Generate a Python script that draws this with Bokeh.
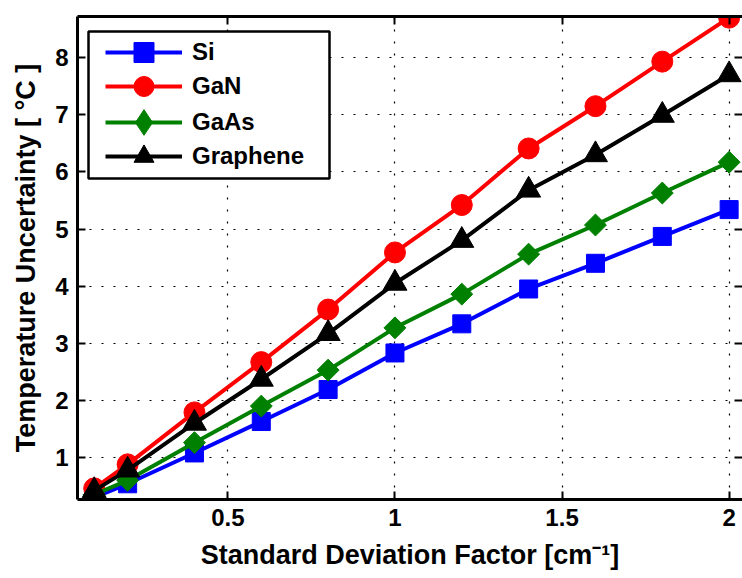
import numpy as np
from bokeh.plotting import figure
from bokeh.models import LinearAxis, FixedTicker, Range1d, Legend, LegendItem, BoxAnnotation
from bokeh.embed import file_html
from bokeh.resources import INLINE

# ---- data ----
factor = [0.1, 0.2, 0.4, 0.6, 0.8, 1.0, 1.2, 1.4, 1.6, 1.8, 2.0]
si = [0.30, 0.54, 1.08, 1.63, 2.19, 2.83, 3.34, 3.95, 4.40, 4.87, 5.34]
gan = [0.46, 0.88, 1.79, 2.67, 3.59, 4.59, 5.42, 6.41, 7.15, 7.93, 8.70]
gaas = [0.35, 0.60, 1.26, 1.90, 2.53, 3.27, 3.86, 4.56, 5.07, 5.63, 6.17]
graphene = [0.42, 0.78, 1.60, 2.37, 3.17, 4.05, 4.80, 5.68, 6.30, 6.99, 7.70]
x_ticks = [0.5, 1.0, 1.5, 2.0]
y_ticks = [1, 2, 3, 4, 5, 6, 7, 8]

FONT = "Liberation Sans"

p = figure(width=742, height=578, output_backend="svg", toolbar_location=None,
           x_range=Range1d(0.05, 2.04), y_range=Range1d(0.265, 8.72),
           min_border_left=77, min_border_right=0, min_border_top=16, min_border_bottom=79)
p.outline_line_color = None
p.background_fill_color = "white"
p.border_fill_color = "white"

# grid
for g, t in ((p.xgrid, x_ticks), (p.ygrid, y_ticks)):
    g.ticker = FixedTicker(ticks=t)
    g.grid_line_color = "black"
    g.grid_line_dash = "2 10"
    g.grid_line_width = 1.2

# main axes
for ax, t in ((p.xaxis, x_ticks), (p.yaxis, y_ticks)):
    ax.ticker = FixedTicker(ticks=t)
    ax.major_tick_in = 8
    ax.major_tick_out = 0
    ax.minor_tick_line_color = None
    ax.axis_line_width = 3
    ax.major_tick_line_width = 2
    ax.major_label_text_font = FONT
    ax.major_label_text_font_style = "bold"
    ax.major_label_text_font_size = "24px"
    ax.major_label_text_color = "black"
    ax.axis_label_text_font = FONT
    ax.axis_label_text_font_style = "bold"
    ax.axis_label_text_font_size = "27px"
    ax.axis_label_text_color = "black"

p.xaxis.axis_label = "Standard Deviation Factor [cm\u207b\u00b9]"
p.yaxis.axis_label = "Temperature Uncertainty [ \u00b0C ]"
p.xaxis.major_label_standoff = 9
p.yaxis.major_label_standoff = 9
p.xaxis.axis_label_standoff = 11
p.yaxis.axis_label_standoff = 11

# top and right axes (ticks only)
top = LinearAxis(ticker=FixedTicker(ticks=x_ticks), major_tick_in=8, major_tick_out=0,
                 minor_tick_line_color=None, axis_line_width=3, major_tick_line_width=2,
                 major_label_text_font_size="0px", major_label_standoff=0,
                 major_label_overrides={t: "" for t in x_ticks})
p.add_layout(top, "above")
right = LinearAxis(ticker=FixedTicker(ticks=y_ticks), major_tick_in=8, major_tick_out=0,
                   minor_tick_line_color=None, axis_line_color=None, major_tick_line_width=2,
                   major_label_text_font_size="0px", major_label_standoff=0,
                   major_label_overrides={t: "" for t in y_ticks})
p.add_layout(right, "right")

series = [
    ("Si", si, "#0000ff", dict(marker="square", size=18), None),
    ("GaN", gan, "#ff0000", dict(marker="circle", size=21), None),
    ("GaAs", gaas, "#008000", dict(marker="square", size=15.5, angle=np.pi / 4), "diamond"),
    ("Graphene", graphene, "#000000", dict(marker="triangle", size=24), None),
]

# legend frame (screen units, relative to plot frame)
box = BoxAnnotation(left=11, right=252, bottom=321, top=468,
                    left_units="screen", right_units="screen",
                    bottom_units="screen", top_units="screen",
                    fill_color="white", fill_alpha=1.0,
                    line_color="black", line_width=2.5, line_alpha=1.0)
p.add_layout(box)

row_centers = [447, 413, 377, 343]
for (name, ys, col, mk, leg_marker), rc in zip(series, row_centers):
    l = p.line(factor, ys, line_color=col, line_width=4)
    s = p.scatter(factor, ys, fill_color=col, line_color=col, line_width=1, **mk)
    rends = [l, s]
    gh = 50
    if leg_marker is not None:
        # hidden twin used only for the legend symbol (legend glyphs ignore marker angle)
        d = p.scatter(factor, ys, marker=leg_marker, fill_color=col, line_color=col,
                      line_width=1, visible=False)
        rends = [l, d]
        gh = 64
    lg = Legend(items=[LegendItem(label=name, renderers=rends)], location=(28, rc - gh // 2))
    lg.border_line_color = None
    lg.background_fill_alpha = 0
    lg.inactive_fill_alpha = 0
    lg.label_text_font = FONT
    lg.label_text_font_style = "bold"
    lg.label_text_font_size = "24px"
    lg.label_text_color = "black"
    lg.glyph_width = 77
    lg.glyph_height = gh
    lg.label_height = gh
    lg.label_standoff = 10
    lg.spacing = 0
    lg.padding = 0
    lg.margin = 0
    p.add_layout(lg, "center")

open("out.html", "w").write(file_html(p, INLINE))
